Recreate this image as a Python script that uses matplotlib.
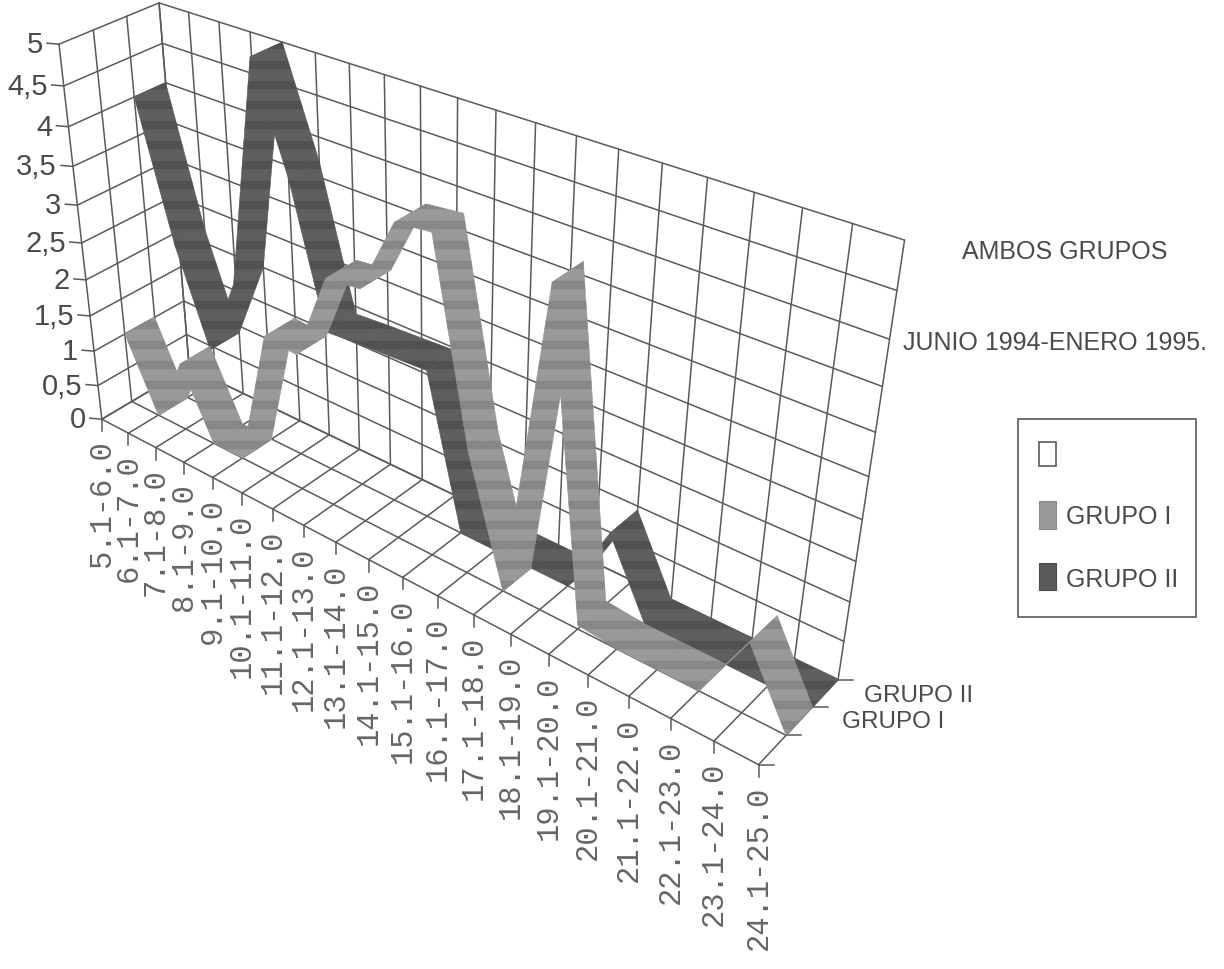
import numpy as np
import matplotlib
matplotlib.use('Agg')
import matplotlib.pyplot as plt
from matplotlib.patches import Polygon, Rectangle

categories = ['5.1-6.0', '6.1-7.0', '7.1-8.0', '8.1-9.0', '9.1-10.0', '10.1-11.0', '11.1-12.0',
              '12.1-13.0', '13.1-14.0', '14.1-15.0', '15.1-16.0', '16.1-17.0', '17.1-18.0',
              '18.1-19.0', '19.1-20.0', '20.1-21.0', '21.1-22.0', '22.1-23.0', '23.1-24.0', '24.1-25.0']
grupo_1 = [1.0, 0.0, 0.95, 0.0, 0.0, 1.9, 1.85, 3.0, 3.05, 4.0, 4.05, 1.6, 0.0, 4.0, 0.05, 0.0, 0.0, 0.0, 0.9, 0.0]
grupo_2 = [4.0, 2.2, 0.9, 2.0, 5.0, 3.7, 1.9, 1.93, 1.95, 1.97, 0.0, 0.0, 0.0, 0.0, 0.95, 0.0, 0.0, 0.0, 0.0, 0.0]
y_labels = ['0', '0,5', '1', '1,5', '2', '2,5', '3', '3,5', '4', '4,5', '5']
y_values = [0, 0.5, 1, 1.5, 2, 2.5, 3, 3.5, 4, 4.5, 5]

plt.rcParams['font.family'] = 'Liberation Sans'
TXT = '#4a4a4a'
GRID = '#5a5a5a'

# camera of the scanned chart, fitted on the box corners (category, depth, value -> pixel)
world = [(0, 0, 0), (0, 0, 1), (0, 0, 2.5), (0, 0, 5), (0, 3, 5), (0, 3, 0), (19, 3, 5), (19, 3, 0),
         (19, 0, 0), (19, 1, 0), (19, 2, 0), (15, 0, 0), (17, 0, 0), (3, 0, 0)]
pix = [(103, 423), (95, 353), (78, 243), (60, 43), (159, 8), (190, 360), (905, 240), (837, 683),
       (758, 763), (785, 736), (813, 711), (590, 677), (671, 717), (183, 467)]
wts = np.ones(len(world))
for it in range(12):
    rows = []
    for (a, b, c), (u, v), w in zip(world, pix, wts):
        rows.append(np.array([a, b, c, 1, 0, 0, 0, 0, -u * a, -u * b, -u * c, -u]) / w)
        rows.append(np.array([0, 0, 0, 0, a, b, c, 1, -v * a, -v * b, -v * c, -v]) / w)
    P = np.linalg.svd(np.array(rows, dtype=float))[2][-1].reshape(3, 4)
    wts = np.abs(P[2, :3] @ np.array(world, dtype=float).T + P[2, 3])
    wts = wts / wts.mean()


def proj(x, s, z):
    h = P @ np.array([x, s, z, 1.0])
    return h[0] / h[2], h[1] / h[2]


def seg(ax, a, b, lw=1.1):
    p, q = proj(*a), proj(*b)
    ax.plot([p[0], q[0]], [p[1], q[1]], color=GRID, lw=lw, solid_capstyle='round', zorder=1)


def ribbon(ax, vals, s0, s1, col, band, z):
    for i in range(len(vals) - 1):
        quad = [proj(i, s0, vals[i]), proj(i, s1, vals[i]),
                proj(i + 1, s1, vals[i + 1]), proj(i + 1, s0, vals[i + 1])]
        patch = Polygon(quad, closed=True, facecolor=col, edgecolor=col, lw=0.4, zorder=z)
        ax.add_patch(patch)
        # scanner bands across the fill
        stripes = ax.hlines(np.arange(6, 970, 20), 0, 1224, color=band, lw=6, alpha=0.5, zorder=z)
        stripes.set_clip_path(patch)


fig = plt.figure(figsize=(12.24, 9.70), dpi=100)
ax = fig.add_axes([0, 0, 1, 1])
ax.set_xlim(0, 1224)
ax.set_ylim(970, 0)
ax.axis('off')

n = len(categories)
# back wall, left wall
for v in y_values:
    seg(ax, (0, 3, v), (n - 1, 3, v))
    seg(ax, (0, 0, v), (0, 3, v))
for i in range(n):
    seg(ax, (i, 3, 0), (i, 3, 5))
for s in range(4):
    seg(ax, (0, s, 0), (0, s, 5))
    seg(ax, (0, s, 0), (n - 1, s, 0))
# floor
for i in range(n):
    seg(ax, (i, 0, 0), (i, 3, 0))

ribbon(ax, grupo_2, 2, 3, '#5f5f5f', '#454545', 3)
ribbon(ax, grupo_1, 1, 2, '#999999', '#767676', 4)

# value ticks
for v, lab in zip(y_values, y_labels):
    px, py = proj(0, 0, v)
    ax.plot([px - 12, px], [py - 1, py], color=GRID, lw=1.1)
    ax.text(px - 16, py, lab, ha='right', va='center', fontsize=21, color=TXT)

# category ticks
for i, lab in enumerate(categories):
    px, py = proj(i, 0, 0)
    ax.plot([px, px], [py, py + 12], color=GRID, lw=1.1)
    ax.text(px, py + 20, lab, rotation=90, ha='center', va='top', fontsize=22,
            family='Liberation Mono', color='#666666')

# depth ticks
for s in range(4):
    px, py = proj(n - 1, s, 0)
    ax.plot([px, px + 15], [py, py], color=GRID, lw=1.1)
ax.text(919, 696, 'GRUPO II', ha='center', va='center', fontsize=17.5, color=TXT)
ax.text(893, 722, 'GRUPO I', ha='center', va='center', fontsize=17.5, color=TXT)

ax.text(1065, 252, 'AMBOS GRUPOS', ha='center', va='center', fontsize=18, color=TXT)
ax.text(1055, 343, 'JUNIO 1994-ENERO 1995.', ha='center', va='center', fontsize=18, color=TXT)

# legend box
ax.add_patch(Rectangle((1018, 420), 178, 198, facecolor='white', edgecolor=GRID, lw=1.2))
ax.add_patch(Rectangle((1039, 443), 17, 24, facecolor='white', edgecolor=GRID, lw=1.2))
ax.add_patch(Rectangle((1039, 502), 17, 28, facecolor='#999999', edgecolor='#8a8a8a', lw=0.8))
ax.add_patch(Rectangle((1039, 564), 17, 27, facecolor='#5a5a5a', edgecolor='#4c4c4c', lw=0.8))
ax.text(1066, 517, 'GRUPO I', ha='left', va='center', fontsize=18, color=TXT)
ax.text(1066, 580, 'GRUPO II', ha='left', va='center', fontsize=18, color=TXT)

fig.savefig('out.png', dpi=100)
